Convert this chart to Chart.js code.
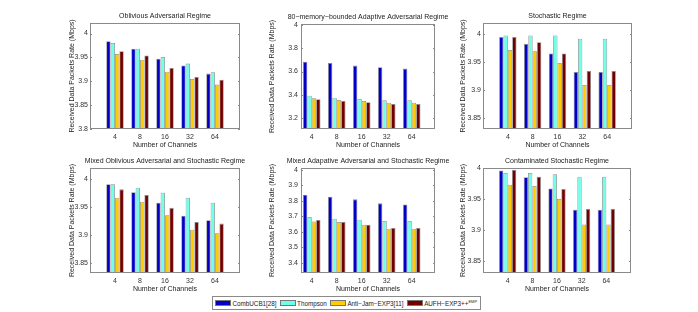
<!DOCTYPE html>
<html>
<head>
<meta charset="utf-8">
<script src="https://cdn.jsdelivr.net/npm/chart.js@4.4.0/dist/chart.umd.min.js"></script>
<style>
  body { margin: 0; background: #fff; width: 698px; height: 312px; position: relative; overflow: hidden; font-family: "Liberation Sans", Arial, sans-serif; }
  canvas { position: absolute; }
  #legend { position: absolute; left: 212px; top: 296px; height: 12px; border: 1px solid #8a8a8a; display: flex; align-items: center; font-size: 6.3px; color: #222; padding: 0 3px 0 2px; white-space: nowrap; background: #fff; }
  #legend .sw { width: 16px; height: 6px; margin-right: 1.5px; box-sizing: border-box; border: 0.5px solid #777; }
  #legend .it { display: flex; align-items: center; margin-right: 3px; }
  #legend .it:last-child { margin-right: 0; }
  #legend sup { font-size: 4px; vertical-align: 3px; }
</style>
</head>
<body>
<div id="legend"></div>
<script>
const FONT = "'Liberation Sans', Arial, sans-serif";

// categories
const channels = ["4", "8", "16", "32", "64"];
const seriesNames = ["CombUCB1[28]", "Thompson", "Anti\u2212Jam\u2212EXP3[11]", "AUFH\u2212EXP3++"];
const seriesColors = ["#0000c8", "#70ffea", "#ffcc00", "#720000"];

// values per panel, one row per series
const obliviousVals = [
  [3.984, 3.968, 3.947, 3.933, 3.916],
  [3.980, 3.968, 3.951, 3.937, 3.919],
  [3.957, 3.945, 3.920, 3.905, 3.893],
  [3.963, 3.954, 3.928, 3.909, 3.903]
];
const adaptiveVals = [
  [3.685, 3.674, 3.651, 3.637, 3.625],
  [3.392, 3.375, 3.364, 3.352, 3.352],
  [3.370, 3.355, 3.347, 3.332, 3.332],
  [3.361, 3.347, 3.335, 3.321, 3.321]
];
const stochasticVals = [
  [3.994, 3.982, 3.965, 3.932, 3.932],
  [3.997, 3.997, 3.997, 3.991, 3.991],
  [3.971, 3.969, 3.948, 3.909, 3.909],
  [3.994, 3.985, 3.965, 3.934, 3.934]
];
const mixedOblVals = [
  [3.990, 3.976, 3.957, 3.934, 3.926],
  [3.990, 3.984, 3.975, 3.966, 3.957],
  [3.966, 3.959, 3.935, 3.909, 3.903],
  [3.981, 3.971, 3.948, 3.923, 3.920]
];
const mixedAdaVals = [
  [3.840, 3.827, 3.810, 3.784, 3.777],
  [3.696, 3.685, 3.678, 3.670, 3.670],
  [3.667, 3.663, 3.646, 3.620, 3.620],
  [3.676, 3.663, 3.646, 3.625, 3.625]
];
const contaminatedVals = [
  [3.996, 3.985, 3.967, 3.933, 3.933],
  [3.992, 3.992, 3.990, 3.986, 3.986],
  [3.973, 3.971, 3.950, 3.909, 3.909],
  [3.997, 3.986, 3.966, 3.934, 3.934]
];

// tick values
const ticksA = [3.8, 3.85, 3.9, 3.95, 4];
const ticksB = [3.2, 3.4, 3.6, 3.8, 4];
const ticksC = [3.85, 3.9, 3.95, 4];
const ticksD = [3.4, 3.5, 3.6, 3.7, 3.8, 3.9, 4];

const panels = [
  { title: "Oblivious Adversarial Regime", vals: obliviousVals, ticks: ticksA, ymin: 3.8, ymax: 4.022,
    L: 90, R: 240, T: 23, B: 129, xmin: 0, xmax: 6, yl: 18, tp: 2 },
  { title: "80\u2212memory\u2212bounded Adaptive Adversarial Regime", vals: adaptiveVals, ticks: ticksB, ymin: 3.105, ymax: 4.009,
    L: 301, R: 435, T: 24, B: 129, xmin: 0.57, xmax: 5.93, yl: 29, tp: 3 },
  { title: "Stochastic Regime", vals: stochasticVals, ticks: ticksC, ymin: 3.831, ymax: 4.019,
    L: 483, R: 632, T: 23, B: 129, xmin: 0, xmax: 6, yl: 20, tp: 2 },
  { title: "Mixed Oblivious Adversarial and Stochastic Regime", vals: mixedOblVals, ticks: ticksC, ymin: 3.832, ymax: 4.019,
    L: 90, R: 240, T: 168, B: 273, xmin: 0, xmax: 6, yl: 18, tp: 2 },
  { title: "Mixed Adapative Adversarial and Stochastic Regime", vals: mixedAdaVals, ticks: ticksD, ymin: 3.333, ymax: 4.013,
    L: 301, R: 435, T: 168, B: 273, xmin: 0.57, xmax: 5.93, yl: 29, tp: 3 },
  { title: "Contaminated Stochastic Regime", vals: contaminatedVals, ticks: ticksC, ymin: 3.831, ymax: 4.0,
    L: 483, R: 631, T: 168, B: 273, xmin: 0, xmax: 6, yl: 20, tp: 2 }
];

// axes box, inner ticks and title
const framePlugin = {
  id: "frame",
  afterDraw(chart) {
    const { ctx, chartArea: a } = chart;
    const p = chart.options.plugins.frame;
    ctx.save();
    ctx.strokeStyle = "#8a8a8a";
    ctx.lineWidth = 1;
    ctx.strokeRect(a.left + 0.5, a.top + 0.5, a.right - a.left - 1, a.bottom - a.top - 1);
    const ys = chart.scales.y;
    ctx.beginPath();
    ys.ticks.forEach(t => {
      const y = Math.round(ys.getPixelForValue(t.value)) + 0.5;
      ctx.moveTo(a.left, y); ctx.lineTo(a.left + 2, y);
      ctx.moveTo(a.right, y); ctx.lineTo(a.right - 2, y);
    });
    ctx.stroke();
    ctx.fillStyle = "#222";
    ctx.font = "7px " + FONT;
    ctx.textAlign = "center";
    ctx.textBaseline = "middle";
    ctx.fillText(p.title, (a.left + a.right) / 2, a.top - 6.5);
    ctx.restore();
  }
};

const padL = 50, padT = 20, padR = 14, padB = 26;

panels.forEach(p => {
  const cv = document.createElement("canvas");
  const w = p.R - p.L + padL + padR;
  const h = p.B - p.T + padT + padB;
  cv.width = w; cv.height = h;
  cv.style.left = (p.L - padL) + "px";
  cv.style.top = (p.T - padT) + "px";
  cv.style.width = w + "px";
  cv.style.height = h + "px";
  document.body.appendChild(cv);

  new Chart(cv, {
    type: "bar",
    data: {
      datasets: p.vals.map((vals, i) => ({
        label: seriesNames[i],
        data: vals.map((v, j) => ({ x: j + 1, y: v })),
        backgroundColor: seriesColors[i],
        borderColor: "#8c8c8c",
        borderWidth: 0.8,
        categoryPercentage: 0.7,
        barPercentage: 1
      }))
    },
    options: {
      responsive: false,
      animation: false,
      devicePixelRatio: 1,
      layout: { padding: { top: padT, right: padR, left: 0, bottom: 0 } },
      plugins: { legend: { display: false }, tooltip: { enabled: false }, frame: { title: p.title } },
      scales: {
        x: {
          type: "linear", min: p.xmin, max: p.xmax, offset: false,
          grid: { display: false, drawTicks: false }, border: { display: false },
          afterBuildTicks: s => { s.ticks = channels.map((c, j) => ({ value: j + 1 })); },
          afterFit: s => { s.height = padB; },
          ticks: { callback: v => channels[v - 1], font: { size: 7, family: FONT }, color: "#333", padding: 4, maxRotation: 0, autoSkip: false },
          title: { display: true, text: "Number of Channels", font: { size: 7, family: FONT }, color: "#222", padding: { top: 0, bottom: 6 } }
        },
        y: {
          min: p.ymin, max: p.ymax,
          grid: { display: false, drawTicks: false }, border: { display: false },
          afterBuildTicks: s => { s.ticks = p.ticks.map(v => ({ value: v })); },
          afterFit: s => { s.width = padL; },
          ticks: { callback: v => String(+(+v).toFixed(2)), font: { size: 7, family: FONT }, color: "#333", padding: p.tp, autoSkip: false },
          title: { display: true, text: "Received Data Packets Rate (Mbps)", font: { size: 7, family: FONT }, color: "#222",
                   padding: { top: padL - p.yl - 4.2, bottom: 0 } }
        }
      }
    },
    plugins: [framePlugin]
  });
});

// legend
const legend = document.getElementById("legend");
seriesNames.forEach((name, i) => {
  const it = document.createElement("div");
  it.className = "it";
  const sw = document.createElement("span");
  sw.className = "sw";
  sw.style.background = seriesColors[i];
  const tx = document.createElement("span");
  tx.innerHTML = i === 3 ? name + "<sup>EMP</sup>" : name;
  it.appendChild(sw); it.appendChild(tx);
  legend.appendChild(it);
});
</script>
</body>
</html>
